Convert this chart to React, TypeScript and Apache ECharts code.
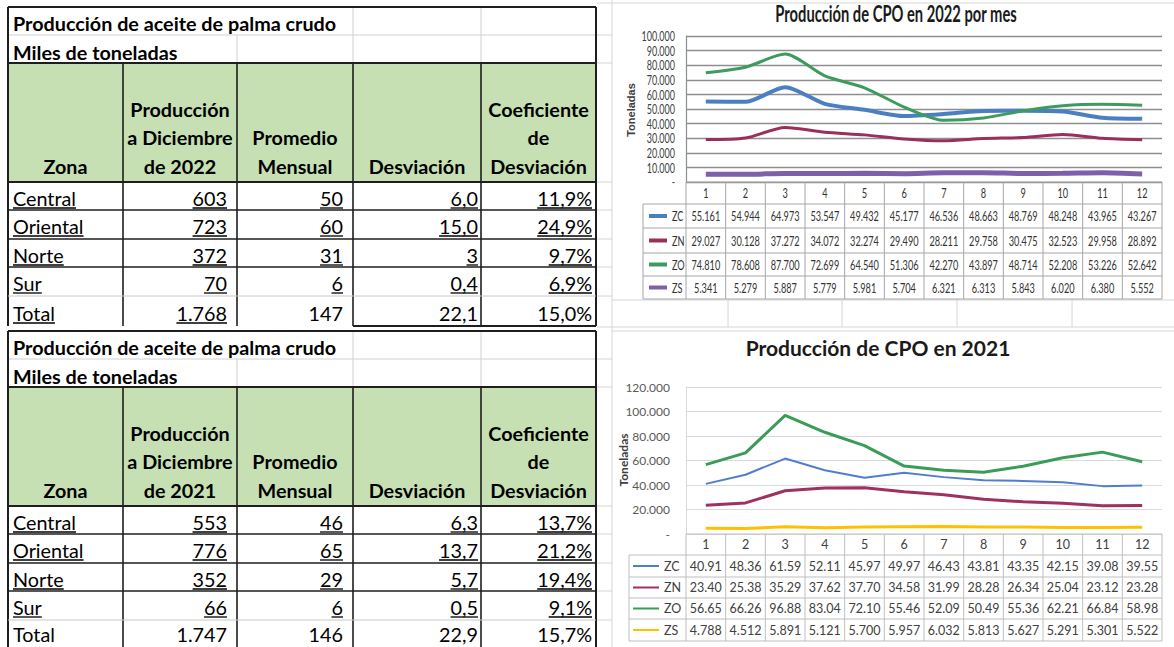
import React, { useEffect, useRef } from "react";
import * as echarts from "echarts";

// ---------- data ----------
const months = ["1", "2", "3", "4", "5", "6", "7", "8", "9", "10", "11", "12"];
const zoneCodes = ["ZC", "ZN", "ZO", "ZS"];

const cpo2022ZC = [55161, 54944, 64973, 53547, 49432, 45177, 46536, 48663, 48769, 48248, 43965, 43267];
const cpo2022ZN = [29027, 30128, 37272, 34072, 32274, 29490, 28211, 29758, 30475, 32523, 29958, 28892];
const cpo2022ZO = [74810, 78608, 87700, 72699, 64540, 51306, 42270, 43897, 48714, 52208, 53226, 52642];
const cpo2022ZS = [5341, 5279, 5887, 5779, 5981, 5704, 6321, 6313, 5843, 6020, 6380, 5552];

const cpo2021ZC = [40910, 48360, 61590, 52110, 45970, 49970, 46430, 43810, 43350, 42150, 39080, 39550];
const cpo2021ZN = [23400, 25380, 35290, 37620, 37700, 34580, 31990, 28280, 26340, 25040, 23120, 23280];
const cpo2021ZO = [56650, 66260, 96880, 83040, 72100, 55460, 52090, 50490, 55360, 62210, 66840, 58980];
const cpo2021ZS = [4788, 4512, 5891, 5121, 5700, 5957, 6032, 5813, 5627, 5291, 5301, 5522];

const yTicks2022 = [0, 10000, 20000, 30000, 40000, 50000, 60000, 70000, 80000, 90000, 100000];

const zonas = ["Central", "Oriental", "Norte", "Sur", "Total"];
const prodDic2022 = [603, 723, 372, 70, 1768];
const promedio2022 = [50, 60, 31, 6, 147];
const desviacion2022 = ["6,0", "15,0", "3", "0,4", "22,1"];
const coef2022 = [11.9, 24.9, 9.7, 6.9, 15.0];
const prodDic2021 = [553, 776, 352, 66, 1747];
const promedio2021 = [46, 65, 29, 6, 146];
const desviacion2021 = ["6,3", "13,7", "5,7", "0,5", "22,9"];
const coef2021 = [13.7, 21.2, 19.4, 9.1, 15.7];

const title2022 = "Producción de CPO en 2022 por mes";
const title2021 = "Producción de CPO en 2021";
const tableTitle = "Producción de aceite de palma crudo";
const tableUnit = "Miles de toneladas";
const yName = "Toneladas";

// ---------- styles ----------
const LATO = "Lato, 'Open Sans', sans-serif";
const colors2022 = ["#4a7fc1", "#9a2f5b", "#3e9b5e", "#7d5fac"];
const widths2022 = [4, 3, 3, 5];
const colors2021 = ["#4f7fcb", "#a03060", "#3b9c57", "#ffc000"];
const widths2021 = [2, 3, 3, 3];
const SHEET_SIZE = 18.5;
const SHEET_SX = 1.07;
const NARROW_SX = 0.68;

const th = (n: number) => String(n).replace(/\B(?=(\d{3})+(?!\d))/g, ".");
const pct = (v: number) => v.toFixed(1).replace(".", ",") + "%";

let measureCtx: CanvasRenderingContext2D | null = null;
function textWidth(t: string, font: string) {
  if (!measureCtx) measureCtx = document.createElement("canvas").getContext("2d");
  measureCtx!.font = font;
  return measureCtx!.measureText(t).width;
}

function addLine(g: any[], x1: number, y1: number, x2: number, y2: number, stroke: string, w: number, z = 2) {
  g.push({ type: "line", z, silent: true, shape: { x1, y1, x2, y2 }, style: { stroke, lineWidth: w } });
}
function addText(g: any[], x: number, y: number, text: string, o: any) {
  g.push({
    type: "text", z: 5, silent: true, x, y, scaleX: o.sx || 1, rotation: o.rot || 0,
    style: {
      text, fill: o.fill || "#000", fontFamily: o.family || LATO, fontSize: o.size || SHEET_SIZE,
      fontWeight: o.weight || "normal", align: o.align || "left", verticalAlign: "middle",
    },
  });
}

function buildSheetTable(g: any[], top: number, year: string, prod: number[], prom: number[], desv: string[], coef: number[], totalUnderline: boolean[], totalOffset: number) {
  const X = [8, 123, 237, 353, 481, 596];
  const r1 = top + 28, r2 = top + 56, hb = top + 175;
  const rows = [hb, hb + 28, hb + 57, hb + 85, hb + 114, hb + 144];
  const dark = "#1e1e1e", light = "#d0d0d0";
  g.push({ type: "rect", z: 1, silent: true, shape: { x: X[0], y: r2, width: X[5] - X[0], height: hb - r2 }, style: { fill: "#c6e0b4" } });
  addLine(g, X[0], r1, X[5], r1, light, 1);
  addLine(g, X[3], top, X[3], r2, light, 1);
  addLine(g, X[4], top, X[4], r2, light, 1);
  addLine(g, X[2], r1, X[2], r2, light, 1);
  addLine(g, X[0], top, X[5], top, dark, 2);
  addLine(g, X[0], top, X[0], rows[5], dark, 2);
  addLine(g, X[5], top, X[5], rows[5], dark, 2);
  addLine(g, X[0], r2, X[5], r2, dark, 2);
  addLine(g, X[0], hb, X[5], hb, dark, 2);
  for (let c = 1; c < 5; c++) addLine(g, X[c], r2, X[c], rows[5], dark, 1.6);
  for (let r = 1; r <= 3; r++) addLine(g, X[0], rows[r], X[5], rows[r], dark, 1.6);
  addLine(g, X[0], rows[4], X[5], rows[4], "#c8c8c8", 1);
  addLine(g, X[3], rows[5], X[5], rows[5], dark, 2);
  const B = { weight: "bold", sx: SHEET_SX };
  const BC = { weight: "bold", sx: SHEET_SX, align: "center" };
  addText(g, 13, top + 17, tableTitle, B);
  addText(g, 13, top + 46, tableUnit, B);
  const cx = (c: number) => (X[c] + X[c + 1]) / 2;
  const hl = [hb - 72, hb - 44, hb - 15];
  addText(g, cx(0), hl[2], "Zona", BC);
  addText(g, cx(1), hl[0], "Producción", BC);
  addText(g, cx(1), hl[1], "a Diciembre", BC);
  addText(g, cx(1), hl[2], "de " + year, BC);
  addText(g, cx(2), hl[1], "Promedio", BC);
  addText(g, cx(2), hl[2], "Mensual", BC);
  addText(g, cx(3), hl[2], "Desviación", BC);
  addText(g, cx(4), hl[0], "Coeficiente", BC);
  addText(g, cx(4), hl[1], "de", BC);
  addText(g, cx(4), hl[2], "Desviación", BC);
  const pad = [0, 10, 10, 3, 4];
  const font = SHEET_SIZE + "px Lato";
  for (let r = 0; r < 5; r++) {
    const my = rows[r] + (r === 4 ? totalOffset : 17);
    const cells = [zonas[r], th(prod[r]), String(prom[r]), desv[r], pct(coef[r])];
    for (let c = 0; c < 5; c++) {
      const t = cells[c];
      const under = r < 4 ? true : totalUnderline[c];
      const tw = textWidth(t, font) * SHEET_SX;
      if (c === 0) {
        addText(g, 13, my, t, { sx: SHEET_SX });
        if (under) addLine(g, 13, my + 9, 13 + tw, my + 9, "#000", 1.3, 5);
      } else {
        const xr = X[c + 1] - pad[c];
        addText(g, xr, my, t, { align: "right", sx: SHEET_SX });
        if (under) addLine(g, xr - tw, my + 9, xr, my + 9, "#000", 1.3, 5);
      }
    }
  }
}

function buildChartTable(g: any[], chart: any, axisIndex: number, ys: number[], legendLeft: number, series: number[][],
  colors: string[], widths: number[], fmt: (v: number) => string, size: number, sx: number, border: string,
  keyX1: number, keyX2: number, keyW: number, labelX: number, rightX: number, fill: string) {
  const p0 = chart.convertToPixel({ xAxisIndex: axisIndex }, 0);
  const p1 = chart.convertToPixel({ xAxisIndex: axisIndex }, 1);
  const w = p1 - p0;
  const left = p0 - w / 2;
  addLine(g, left, ys[0], rightX, ys[0], border, 1);
  for (let r = 1; r < ys.length; r++) addLine(g, legendLeft, ys[r], rightX, ys[r], border, 1);
  addLine(g, legendLeft, ys[1], legendLeft, ys[ys.length - 1], border, 1);
  for (let i = 0; i <= months.length; i++) {
    const x = Math.min(left + i * w, rightX);
    addLine(g, x, ys[0], x, ys[ys.length - 1], border, 1);
  }
  for (let i = 0; i < months.length; i++) {
    const cx = chart.convertToPixel({ xAxisIndex: axisIndex }, i);
    addText(g, cx, (ys[0] + ys[1]) / 2, months[i], { size, sx, fill, align: "center" });
    for (let s = 0; s < series.length; s++) {
      addText(g, cx, (ys[s + 1] + ys[s + 2]) / 2, fmt(series[s][i]), { size, sx, fill, align: "center" });
    }
  }
  for (let s = 0; s < series.length; s++) {
    const my = (ys[s + 1] + ys[s + 2]) / 2;
    addLine(g, keyX1, my, keyX2, my, colors[s], keyW, 5);
    addText(g, labelX, my, zoneCodes[s], { size, sx, fill });
  }
}

export default function App() {
  const ref = useRef<HTMLDivElement>(null);
  useEffect(() => {
    if (!ref.current) return;
    const chart = echarts.init(ref.current, null, { renderer: "svg" });
    const s2022 = [cpo2022ZC, cpo2022ZN, cpo2022ZO, cpo2022ZS];
    const s2021 = [cpo2021ZC, cpo2021ZN, cpo2021ZO, cpo2021ZS];
    const yFmt = (v: number) => (v === 0 ? "-" : th(v));
    chart.setOption({
      animation: false,
      backgroundColor: "#ffffff",
      title: [
        { text: title2021, left: 878, top: 337, textAlign: "center", padding: 0,
          textStyle: { fontFamily: LATO, fontSize: 21, fontWeight: "bold", color: "#1a1a1a" } },
      ],
      grid: [
        { left: 686, top: 36, width: 476, height: 146 },
        { left: 686, top: 387, width: 476, height: 147 },
      ],
      xAxis: [
        { type: "category", gridIndex: 0, data: months, boundaryGap: true, axisLabel: { show: false }, axisTick: { show: false }, axisLine: { show: false }, splitLine: { show: false } },
        { type: "category", gridIndex: 1, data: months, boundaryGap: true, axisLabel: { show: false }, axisTick: { show: false }, axisLine: { show: false }, splitLine: { show: false } },
      ],
      yAxis: [
        { type: "value", gridIndex: 0, min: 0, max: 100000, interval: 10000,
          axisLine: { show: true, lineStyle: { color: "#8e8e8e", width: 1.2 } }, axisTick: { show: false },
          splitLine: { lineStyle: { color: "#8e8e8e", width: 1.3 } },
          axisLabel: { show: false } },
        { type: "value", gridIndex: 1, min: 0, max: 120000, interval: 20000,
          axisLine: { show: true, lineStyle: { color: "#d9d9d9" } }, axisTick: { show: false },
          splitLine: { lineStyle: { color: "#d9d9d9" } },
          axisLabel: { formatter: yFmt, fontFamily: LATO, fontSize: 12, color: "#595959", margin: 16 } },
      ],
      series: [
        ...s2022.map((d, i) => ({
          type: "line", name: zoneCodes[i], xAxisIndex: 0, yAxisIndex: 0, data: d, symbol: "none", smooth: 0.25,
          lineStyle: { color: colors2022[i], width: widths2022[i] }, itemStyle: { color: colors2022[i] }, z: 3,
        })),
        ...s2021.map((d, i) => ({
          type: "line", name: zoneCodes[i], xAxisIndex: 1, yAxisIndex: 1, data: d, symbol: "none", smooth: false,
          lineStyle: { color: colors2021[i], width: widths2021[i] }, itemStyle: { color: colors2021[i] }, z: 3,
        })),
      ],
    });

    const g: any[] = [];
    const lg = "#d6d6d6";
    addLine(g, 612, 0, 612, 647, lg, 1, 0);
    addLine(g, 597, 3, 1174, 3, lg, 1, 0);
    [35, 63, 182, 210, 239, 267, 296, 359, 387, 506, 534, 563, 591, 620].forEach((y) => addLine(g, 597, y, 612, y, lg, 1, 0));
    addLine(g, 612, 300, 1174, 300, lg, 1, 0);
    addLine(g, 597, 327, 1174, 327, lg, 1, 0);
    addLine(g, 612, 331, 1174, 331, lg, 1, 0);
    [728, 842, 957, 1072].forEach((x) => addLine(g, x, 300, x, 327, lg, 1, 0));

    buildSheetTable(g, 7, "2022", prodDic2022, promedio2022, desviacion2022, coef2022, [true, true, false, false, false], 18);
    buildSheetTable(g, 331, "2021", prodDic2021, promedio2021, desviacion2021, coef2021, [false, false, false, false, false], 15);

    // 2022 chart: condensed title and y tick labels
    const tFont = "bold 23px Lato";
    addText(g, 896, 13, title2022, { size: 23, weight: "bold", align: "center", fill: "#1a1a1a", sx: 242 / textWidth(title2022, tFont) });
    yTicks2022.forEach((v) => {
      const y = chart.convertToPixel({ yAxisIndex: 0 }, v);
      addText(g, 675, y, yFmt(v), { size: 12.5, sx: 0.72, fill: "#404040", align: "right" });
    });

    buildChartTable(g, chart, 0, [182, 204, 228, 253, 276, 299], 643, s2022, colors2022, widths2022, th,
      13.5, NARROW_SX, "#a6a6a6", 649, 667, 4, 672, 1162, "#333333");
    buildChartTable(g, chart, 1, [534, 555, 577, 598, 619, 641], 629, s2021, colors2021, widths2021,
      (v) => th(v).slice(0, 5), 12.5, 1, "#bfbfbf", 633, 659, 2, 664, 1162, "#404040");

    g.push({ type: "text", z: 5, silent: true, x: 631, y: 110, rotation: Math.PI / 2,
      style: { text: yName, fontFamily: "Arial, 'Liberation Sans', sans-serif", fontWeight: "bold", fontSize: 11, fill: "#404040", align: "center", verticalAlign: "middle" } });
    g.push({ type: "text", z: 5, silent: true, x: 623, y: 460, rotation: Math.PI / 2,
      style: { text: yName, fontFamily: LATO, fontWeight: "bold", fontSize: 12, fill: "#404040", align: "center", verticalAlign: "middle" } });

    chart.setOption({ graphic: g });
    return () => chart.dispose();
  }, []);
  return <div ref={ref} style={{ position: "absolute", left: 0, top: 0, width: 1174, height: 647 }} />;
}
